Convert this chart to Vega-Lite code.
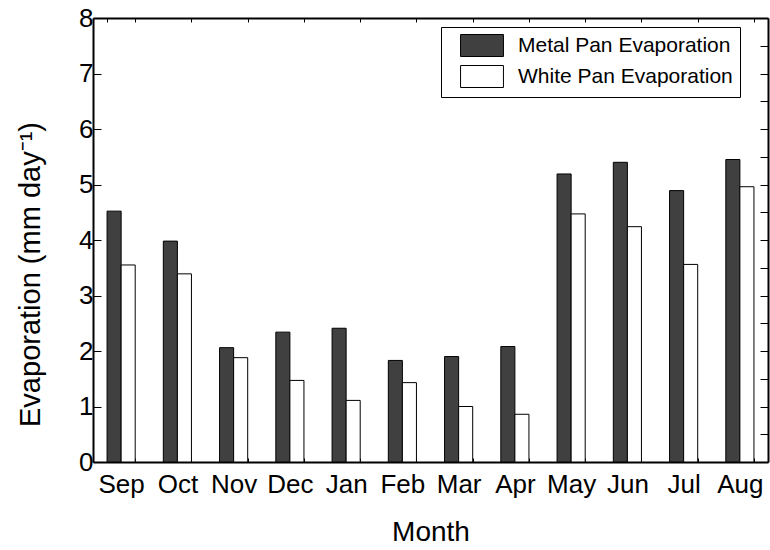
{
  "$schema": "https://vega.github.io/schema/vega-lite/v6.json",
  "width": 675,
  "height": 444,
  "autosize": {"type": "none"},
  "padding": {"left": 93, "top": 18, "right": 2, "bottom": 88},
  "background": "#ffffff",
  "config": {
    "font": "Liberation Sans",
    "view": {"stroke": null},
    "axis": {
      "domainColor": "#000000",
      "domainWidth": 2,
      "tickColor": "#000000",
      "tickWidth": 1,
      "labelColor": "#000000",
      "titleColor": "#000000",
      "titleFontWeight": "normal",
      "labelFont": "Liberation Sans",
      "titleFont": "Liberation Sans",
      "grid": false
    }
  },
  "data": {
    "values": [
      {"month": "Sep", "series": "Metal Pan Evaporation", "value": 4.52},
      {"month": "Sep", "series": "White Pan Evaporation", "value": 3.55},
      {"month": "Oct", "series": "Metal Pan Evaporation", "value": 3.98},
      {"month": "Oct", "series": "White Pan Evaporation", "value": 3.39},
      {"month": "Nov", "series": "Metal Pan Evaporation", "value": 2.06},
      {"month": "Nov", "series": "White Pan Evaporation", "value": 1.88},
      {"month": "Dec", "series": "Metal Pan Evaporation", "value": 2.34},
      {"month": "Dec", "series": "White Pan Evaporation", "value": 1.47},
      {"month": "Jan", "series": "Metal Pan Evaporation", "value": 2.41},
      {"month": "Jan", "series": "White Pan Evaporation", "value": 1.11},
      {"month": "Feb", "series": "Metal Pan Evaporation", "value": 1.83},
      {"month": "Feb", "series": "White Pan Evaporation", "value": 1.43},
      {"month": "Mar", "series": "Metal Pan Evaporation", "value": 1.9},
      {"month": "Mar", "series": "White Pan Evaporation", "value": 1.0},
      {"month": "Apr", "series": "Metal Pan Evaporation", "value": 2.08},
      {"month": "Apr", "series": "White Pan Evaporation", "value": 0.86},
      {"month": "May", "series": "Metal Pan Evaporation", "value": 5.19},
      {"month": "May", "series": "White Pan Evaporation", "value": 4.47},
      {"month": "Jun", "series": "Metal Pan Evaporation", "value": 5.4},
      {"month": "Jun", "series": "White Pan Evaporation", "value": 4.24},
      {"month": "Jul", "series": "Metal Pan Evaporation", "value": 4.89},
      {"month": "Jul", "series": "White Pan Evaporation", "value": 3.56},
      {"month": "Aug", "series": "Metal Pan Evaporation", "value": 5.45},
      {"month": "Aug", "series": "White Pan Evaporation", "value": 4.96}
    ]
  },
  "encoding": {
    "x": {
      "field": "month",
      "type": "nominal",
      "sort": ["Sep", "Oct", "Nov", "Dec", "Jan", "Feb", "Mar", "Apr", "May", "Jun", "Jul", "Aug"],
      "scale": {"paddingInner": 0.5, "paddingOuter": 0.25}
    },
    "xOffset": {
      "field": "series",
      "type": "nominal",
      "sort": ["Metal Pan Evaporation", "White Pan Evaporation"]
    },
    "y": {
      "field": "value",
      "type": "quantitative",
      "scale": {"domain": [0, 8], "nice": false, "zero": true}
    },
    "color": {
      "field": "series",
      "type": "nominal",
      "scale": {
        "domain": ["Metal Pan Evaporation", "White Pan Evaporation"],
        "range": ["#404040", "#ffffff"]
      },
      "legend": {
        "orient": "none",
        "legendX": 348,
        "legendY": 9,
        "title": null,
        "strokeColor": "#000000",
        "padding": 7,
        "symbolOffset": 22.5,
        "symbolType": "M-1.95,-1H1.95V1H-1.95Z",
        "symbolSize": 484,
        "symbolStrokeColor": "#000000",
        "symbolStrokeWidth": 1,
        "symbolOpacity": 1,
        "labelFont": "Liberation Sans",
        "labelFontSize": 21,
        "labelColor": "#000000",
        "labelOffset": 24.5,
        "rowPadding": 4,
        "labelLimit": 400
      }
    }
  },
  "layer": [
    {
      "mark": {"type": "bar", "stroke": "#000000", "strokeWidth": 1, "opacity": 1},
      "encoding": {
        "x": {
          "field": "month",
          "type": "nominal",
          "sort": ["Sep", "Oct", "Nov", "Dec", "Jan", "Feb", "Mar", "Apr", "May", "Jun", "Jul", "Aug"],
          "axis": {
            "orient": "bottom",
            "title": "Month",
            "titleFontSize": 28,
            "titlePadding": 21,
            "labelFontSize": 26,
            "labelAngle": 0,
            "labelPadding": 13,
            "tickBand": "extent",
            "tickSize": -4
          }
        },
        "y": {
          "field": "value",
          "type": "quantitative",
          "axis": {
            "orient": "left",
            "title": "Evaporation (mm day⁻¹)",
            "titleFontSize": 29,
            "titlePadding": 33,
            "titleY": 256,
            "labelFontSize": 26,
            "labelPadding": 8,
            "format": "d",
            "values": [0, 0.5, 1, 1.5, 2, 2.5, 3, 3.5, 4, 4.5, 5, 5.5, 6, 6.5, 7, 7.5, 8],
            "labelExpr": "datum.value % 1 === 0 ? datum.label : ''",
            "tickSize": -8,
            "encode": {"ticks": {"update": {"x2": {"signal": "datum.value % 1 === 0 ? 8 : 4"}}}}
          }
        }
      }
    },
    {
      "mark": {"type": "bar", "opacity": 0},
      "encoding": {
        "x": {
          "field": "month",
          "type": "nominal",
          "sort": ["Sep", "Oct", "Nov", "Dec", "Jan", "Feb", "Mar", "Apr", "May", "Jun", "Jul", "Aug"],
          "axis": {
            "orient": "top",
            "title": null,
            "labels": false,
            "tickBand": "extent",
            "tickSize": -4
          }
        },
        "y": {
          "field": "value",
          "type": "quantitative",
          "axis": {
            "orient": "right",
            "title": null,
            "labels": false,
            "values": [0, 0.5, 1, 1.5, 2, 2.5, 3, 3.5, 4, 4.5, 5, 5.5, 6, 6.5, 7, 7.5, 8],
            "tickSize": -8,
            "encode": {"ticks": {"update": {"x2": {"signal": "datum.value % 1 === 0 ? -8 : -4"}}}}
          }
        }
      }
    }
  ],
  "resolve": {"axis": {"x": "independent", "y": "independent"}}
}
